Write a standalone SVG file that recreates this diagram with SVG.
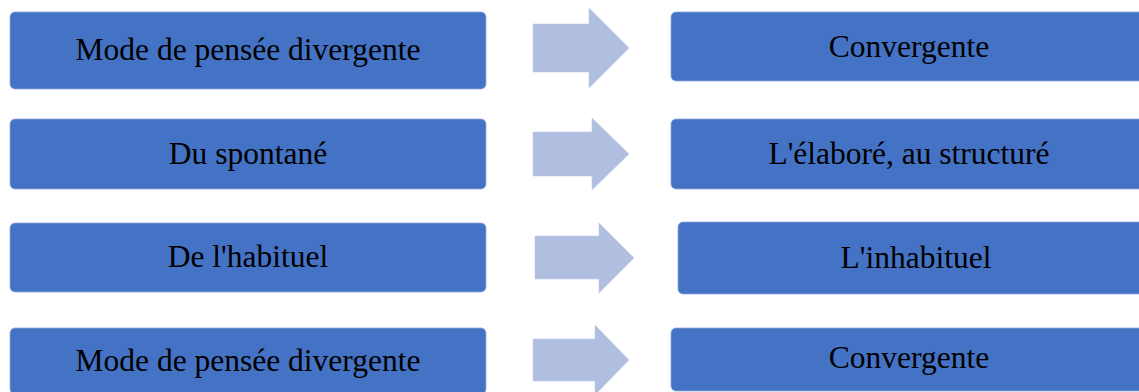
<svg xmlns="http://www.w3.org/2000/svg" width="1139" height="392" viewBox="0 0 1139 392">
<style>
.box{fill:#4472C4;stroke:#8FA9DC;stroke-width:0.8}
.arr{fill:#B0BEE0;stroke:#C4CFEA;stroke-width:0.6}
.t{font-family:"Liberation Serif","Times New Roman",serif;font-size:31.5px;fill:#000;text-anchor:middle}
</style>
<rect width="1139" height="392" fill="#fff"/>
<g id="left1"><rect class="box" x="10" y="12" width="476" height="77" rx="5"/><text class="t" x="248" y="60">Mode de pensée divergente</text></g>
<g id="right1"><rect class="box" x="671" y="12" width="476" height="69" rx="5"/><text class="t" x="909" y="57">Convergente</text></g>
<g id="left2"><rect class="box" x="10" y="119" width="476" height="70" rx="5"/><text class="t" x="248" y="164">Du spontané</text></g>
<g id="right2"><rect class="box" x="671" y="119" width="476" height="70" rx="5"/><text class="t" x="909" y="164">L'élaboré, au structuré</text></g>
<g id="left3"><rect class="box" x="10" y="223" width="476" height="69" rx="5"/><text class="t" x="248" y="267">De l'habituel</text></g>
<g id="right3"><rect class="box" x="678" y="222" width="476" height="72" rx="5"/><text class="t" x="916" y="268">L'inhabituel</text></g>
<g id="left4"><rect class="box" x="10" y="328" width="476" height="66" rx="5"/><text class="t" x="248" y="371">Mode de pensée divergente</text></g>
<g id="right4"><rect class="box" x="671" y="328" width="476" height="63" rx="5"/><text class="t" x="909" y="368">Convergente</text></g>
<g id="connectors">
<polygon class="arr" points="533,24 589,24 589,8 629,48 589,88 589,72 533,72"/>
<polygon class="arr" points="533,132 592,132 592,118 629,154 592,190 592,176 533,176"/>
<polygon class="arr" points="535,236 599,236 599,223 634,258 599,293 599,279 535,279"/>
<polygon class="arr" points="533,339 595,339 595,325 629,360 595,395 595,381 533,381"/>
</g>
</svg>
